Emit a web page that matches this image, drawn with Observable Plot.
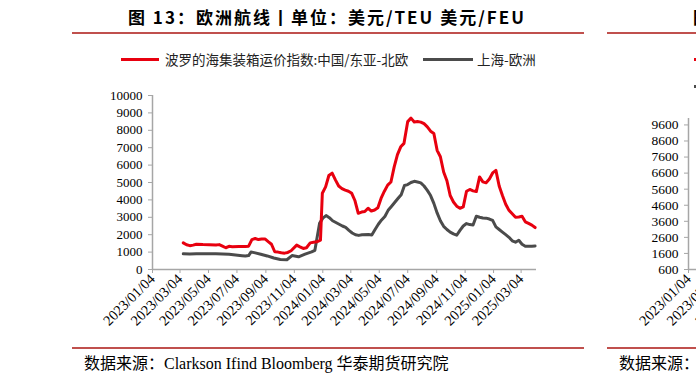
<!DOCTYPE html>
<html><head><meta charset="utf-8">
<script src="https://cdn.jsdelivr.net/npm/d3@7"></script>
<script src="https://cdn.jsdelivr.net/npm/@observablehq/plot@0.6"></script>
<style>
html,body{margin:0;padding:0;background:#fff;overflow:hidden;width:696px;height:383px;}
#root{position:relative;width:696px;height:383px;overflow:hidden;}
.abs{position:absolute;white-space:nowrap;line-height:1;}
.title{font-family:"Noto Sans CJK SC";font-weight:700;font-size:17px;color:#000;}
.rule{position:absolute;height:2px;background:#c0504d;}
.leg{font-family:"Noto Sans CJK SC";font-size:13.5px;color:#222;}
.src{font-family:"Liberation Serif","Noto Sans CJK SC";font-size:16px;color:#000;}
.swatch{position:absolute;height:3px;}
.plot{position:absolute;}
.plot g[aria-label="x-axis tick label"] text{font-size:14.5px;}
</style></head><body><div id="root"></div>
<script>
// ---- data ----
const redDates = ["2023-03-11","2023-03-18","2023-03-25","2023-04-01","2023-04-08","2023-04-22","2023-05-06","2023-05-20","2023-05-27","2023-06-03","2023-06-10","2023-06-17","2023-06-24","2023-07-08","2023-07-22","2023-07-29","2023-08-05","2023-08-12","2023-08-19","2023-08-26","2023-09-02","2023-09-09","2023-09-16","2023-09-23","2023-09-30","2023-10-07","2023-10-14","2023-10-21","2023-10-28","2023-11-09","2023-11-16","2023-11-23","2023-11-30","2023-12-08","2023-12-15","2023-12-22","2023-12-30","2024-01-03","2024-01-10","2024-01-17","2024-01-24","2024-01-31","2024-02-07","2024-02-14","2024-02-21","2024-02-28","2024-03-06","2024-03-13","2024-03-20","2024-03-27","2024-04-03","2024-04-10","2024-04-17","2024-04-24","2024-05-01","2024-05-08","2024-05-15","2024-05-22","2024-05-29","2024-06-05","2024-06-12","2024-06-19","2024-06-26","2024-07-04","2024-07-11","2024-07-18","2024-07-25","2024-08-01","2024-08-08","2024-08-15","2024-08-22","2024-08-29","2024-09-05","2024-09-12","2024-09-19","2024-09-26","2024-10-03","2024-10-10","2024-10-17","2024-10-24","2024-10-31","2024-11-07","2024-11-14","2024-11-21","2024-11-28","2024-12-05","2024-12-12","2024-12-19","2024-12-26","2025-01-02","2025-01-09","2025-01-16","2025-01-23","2025-01-30","2025-02-06","2025-02-13","2025-02-20","2025-02-27","2025-03-06","2025-03-13","2025-03-20","2025-03-27","2025-04-03"];
const redValues = [1530,1420,1370,1400,1450,1430,1420,1410,1430,1340,1250,1330,1310,1320,1320,1340,1720,1780,1720,1750,1760,1600,1450,1020,1000,960,940,980,1080,1400,1300,1210,1250,1530,1560,1590,1690,4380,4750,5400,5540,5150,4800,4650,4560,4500,4380,3950,3230,3300,3330,3520,3360,3420,3550,4100,4500,4850,5030,5900,6600,7050,7250,8500,8700,8480,8500,8470,8380,8200,7950,7820,6850,6480,5600,5100,4250,3880,3640,3520,3600,4500,4600,4520,4480,5320,5040,4980,5200,5550,5700,4800,4250,3750,3400,3200,3000,3020,3060,2740,2650,2550,2410];
const grayDates = ["2023-03-11","2023-03-25","2023-04-08","2023-04-22","2023-05-06","2023-05-20","2023-06-03","2023-06-17","2023-07-01","2023-07-15","2023-07-22","2023-07-29","2023-08-03","2023-08-10","2023-08-24","2023-09-07","2023-09-21","2023-10-05","2023-10-19","2023-10-30","2023-11-13","2023-11-27","2023-12-11","2023-12-18","2023-12-28","2024-01-04","2024-01-11","2024-01-18","2024-01-25","2024-02-01","2024-02-08","2024-02-15","2024-02-22","2024-02-29","2024-03-07","2024-03-14","2024-03-21","2024-03-28","2024-04-11","2024-04-18","2024-04-25","2024-05-02","2024-05-09","2024-05-16","2024-05-23","2024-05-30","2024-06-06","2024-06-13","2024-06-20","2024-06-27","2024-07-04","2024-07-11","2024-07-18","2024-07-25","2024-08-01","2024-08-08","2024-08-15","2024-08-22","2024-08-29","2024-09-05","2024-09-12","2024-09-19","2024-09-26","2024-10-03","2024-10-10","2024-10-17","2024-10-24","2024-10-31","2024-11-07","2024-11-14","2024-11-21","2024-11-28","2024-12-05","2024-12-12","2024-12-19","2024-12-26","2025-01-02","2025-01-09","2025-01-16","2025-01-23","2025-01-30","2025-02-06","2025-02-13","2025-02-20","2025-02-27","2025-03-06","2025-03-13","2025-03-20","2025-03-27","2025-04-03"];
const grayValues = [900,890,900,900,905,900,890,870,830,790,770,800,1000,970,880,780,660,580,560,800,730,880,1010,1100,2650,2950,3100,2980,2800,2700,2600,2500,2420,2250,2100,2000,1960,2000,2010,1980,2300,2600,2850,3050,3400,3620,3850,4080,4300,4830,4880,5000,5070,5030,4980,4800,4550,4250,3800,3250,2800,2480,2300,2150,2050,1970,2250,2500,2640,2580,2560,3060,3000,2960,2950,2900,2820,2450,2300,2150,2000,1850,1650,1570,1680,1450,1340,1330,1340,1350];
const yTicks = [0,1000,2000,3000,4000,5000,6000,7000,8000,9000,10000];
const xTickLabels = ["2023/01/04","2023/03/04","2023/05/04","2023/07/04","2023/09/04","2023/11/04","2024/01/04","2024/03/04","2024/05/04","2024/07/04","2024/09/04","2024/11/04","2025/01/04","2025/03/04"];
const y2Ticks = [600,1600,2600,3600,4600,5600,6600,7600,8600,9600];
const seriesNames = ["波罗的海集装箱运价指数:中国/东亚-北欧","上海-欧洲"];
const titleText = "图 13：欧洲航线丨单位：美元/TEU 美元/FEU";
const sourceText = "数据来源：Clarkson Ifind Bloomberg 华泰期货研究院";

// ---- build ----
const root = document.getElementById("root");
const parseISO = d3.utcParse("%Y-%m-%d");
const parseTick = d3.utcParse("%Y/%m/%d");
const fmtTick = d3.utcFormat("%Y/%m/%d");
const red = redDates.map((d,i)=>({date:parseISO(d), value:redValues[i]}));
const gray = grayDates.map((d,i)=>({date:parseISO(d), value:grayValues[i]}));
const xTicks = xTickLabels.map(parseTick);
const xDomain = [parseTick("2023/01/04"), parseTick("2025/04/06")];
const RED = "#e8000f", GRAY = "#4b4b4b", AX = "#a6a6a6";

function add(html){ const t=document.createElement("div"); t.innerHTML=html; const el=t.firstElementChild; root.appendChild(el); return el; }

// left panel texts
add(`<div class="abs title" style="left:128px;top:8px;letter-spacing:2px">${titleText}</div>`);
add(`<div class="rule" style="left:72px;width:512px;top:32px"></div>`);
add(`<div class="swatch" style="left:121px;width:38px;top:58px;background:${RED}"></div>`);
add(`<div class="abs leg" style="left:165px;top:53px">${seriesNames[0]}</div>`);
add(`<div class="swatch" style="left:423px;width:50px;top:58px;background:${GRAY}"></div>`);
add(`<div class="abs leg" style="left:477px;top:53px">${seriesNames[1]}</div>`);
add(`<div class="rule" style="left:72px;width:512px;top:347px"></div>`);
add(`<div class="abs src" style="left:84px;top:356px">${sourceText}</div>`);

const chart1 = Plot.plot({
  width: 560, height: 260,
  marginLeft: 152, marginRight: 24, marginTop: 10, marginBottom: 76,
  style: {fontFamily: "Liberation Serif", fontSize: "13px", color: "#000", background: "transparent", overflow: "visible"},
  x: {type: "utc", domain: xDomain},
  y: {domain: [0, 10000]},
  marks: [
    Plot.ruleY([0], {stroke: AX, strokeWidth: 1.5}),
    Plot.ruleX([xDomain[0]], {y1: 0, y2: 10000, stroke: AX, strokeWidth: 1.5}),
    Plot.axisY({ticks: yTicks, tickSize: 4, tickPadding: 6, stroke: AX, tickFormat: d => String(d), label: null, fill: "#000"}),
    Plot.axisX({ticks: xTicks, tickSize: 4, tickPadding: 3, tickRotate: -45, stroke: AX, tickFormat: fmtTick, label: null, fill: "#000"}),
    Plot.lineY(gray, {x: "date", y: "value", stroke: GRAY, strokeWidth: 3, strokeLinejoin: "round"}),
    Plot.lineY(red, {x: "date", y: "value", stroke: RED, strokeWidth: 3, strokeLinejoin: "round"})
  ]
});
chart1.classList.add("plot"); chart1.style.left = "0px"; chart1.style.top = "85px";
root.appendChild(chart1);

// right (neighbouring) panel, cut off by the page edge
add(`<div class="abs title" style="left:693px;top:8px">图 14：</div>`);
add(`<div class="rule" style="left:607px;width:200px;top:32px"></div>`);
add(`<div class="swatch" style="left:694px;width:40px;top:58px;background:${RED}"></div>`);
add(`<div class="swatch" style="left:694px;width:40px;top:85px;background:${GRAY}"></div>`);
add(`<div class="rule" style="left:607px;width:200px;top:347px"></div>`);
add(`<div class="abs src" style="left:619px;top:356px">数据来源：</div>`);

const chart2 = Plot.plot({
  width: 500, height: 260,
  marginLeft: 88, marginRight: 28, marginTop: 33, marginBottom: 76,
  style: {fontFamily: "Liberation Serif", fontSize: "13.5px", color: "#000", background: "transparent", overflow: "visible"},
  x: {type: "utc", domain: xDomain},
  y: {domain: [600, 10000]},
  marks: [
    Plot.ruleY([600], {stroke: AX, strokeWidth: 1.5}),
    Plot.ruleX([xDomain[0]], {y1: 600, y2: 10000, stroke: AX, strokeWidth: 1.5}),
    Plot.axisY({ticks: y2Ticks, tickSize: 4, tickPadding: 6, stroke: AX, tickFormat: d => String(d), label: null, fill: "#000"}),
    Plot.axisX({ticks: xTicks, tickSize: 4, tickPadding: 3, tickRotate: -45, stroke: AX, tickFormat: fmtTick, label: null, fill: "#000"})
  ]
});
chart2.classList.add("plot"); chart2.style.left = "600px"; chart2.style.top = "85px";
root.appendChild(chart2);
</script>
</body></html>
